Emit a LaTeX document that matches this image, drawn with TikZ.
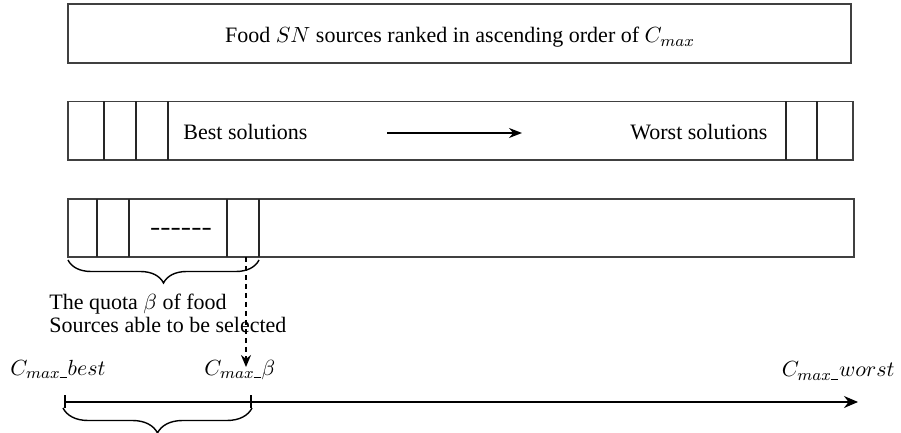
\documentclass[tikz,border=0pt]{standalone}
\usepackage{fontspec}
\setmainfont{Liberation Serif}
\usetikzlibrary{arrows.meta,decorations.pathreplacing}
\newcommand{\myus}{\mbox{\rule{3.5pt}{0.45pt}}}
\begin{document}
\begin{tikzpicture}[x=0.5pt,y=-0.5pt,
  box/.style={draw=black!75, line width=0.6pt, inner sep=0pt},
  divline/.style={draw=black!85, line width=0.6pt},
  lbl/.style={font=\fontsize{11}{12}\selectfont, inner sep=0pt},
  bracestyle/.style={decorate, decoration={brace, amplitude=#1, mirror}, line width=0.7pt},
  arr/.style={line width=0.8pt, -{Stealth[length=6.5pt,width=5pt]}}
  ]
\useasboundingbox (0,0) rectangle (901,433);
% box 1
\node[box, minimum width=391.5pt, minimum height=29.5pt] (b1) at (459.5,33.5) {};
\node[lbl, anchor=base] (t1) at (460,43) {Food $SN$ sources ranked in ascending order of $C_{max}$};
% box 2
\node[box, minimum width=392.5pt, minimum height=29.25pt] (b2) at (460.5,130.75) {};
\foreach \x in {104,136,168,786,817} \draw[divline] (\x,101.5) -- (\x,160);
\node[lbl, anchor=base west] (best) at (183,140) {Best solutions};
\node[lbl, anchor=base west] (worst) at (630,140) {Worst solutions};
\coordinate (a0) at (387,133);
\coordinate (a1) at (522,133);
\draw[arr] (a0) -- (a1);
% box 3
\node[box, minimum width=393pt, minimum height=29pt] (b3) at (461,228) {};
\foreach \x in {97,129,227,259} \draw[divline] (\x,199) -- (\x,257);
\node[lbl, anchor=center, xscale=1.4] (dots) at (181,231) {\bfseries -{}-{}-{}-{}-{}-};
% upper brace
\coordinate (br0) at (68,260);
\coordinate (br1) at (259,260);
\draw[bracestyle=11.5pt] (br0) -- (br1);
\node[lbl, anchor=base west] (q1) at (49,309) {The quota $\beta$ of food};
\node[lbl, anchor=base west] (q2) at (49,333) {Sources able to be selected};
% dashed arrow
\coordinate (d0) at (246,257);
\coordinate (d1) at (246,367);
\draw[line width=0.8pt, dash pattern=on 2.5pt off 2pt, -{Stealth[length=6pt,width=5pt]}] (d0) -- (d1);
% labels
\node[lbl, anchor=base west] (cbest) at (10,375) {$C_{max\myus}best$};
\node[lbl, anchor=base west] (cbeta) at (204,375) {$C_{max\myus}\beta$};
\node[lbl, anchor=base east] (cworst) at (895,377) {$C_{max\myus}worst$};
% axis
\coordinate (ax0) at (65,402);
\coordinate (ax1) at (858,402);
\draw[line width=0.8pt, -{Stealth[length=7pt,width=6pt]}] (ax0) -- (ax1);
\coordinate (tk0a) at (65,395);
\coordinate (tk0b) at (65,408);
\coordinate (tk1a) at (251,395);
\coordinate (tk1b) at (251,408);
\draw[line width=0.6pt] (tk0a) -- (tk0b);
\draw[line width=0.6pt] (tk1a) -- (tk1b);
% lower brace
\coordinate (bl0) at (63,408);
\coordinate (bl1) at (252,408);
\draw[bracestyle=12.5pt] (bl0) -- (bl1);
\end{tikzpicture}
\end{document}
